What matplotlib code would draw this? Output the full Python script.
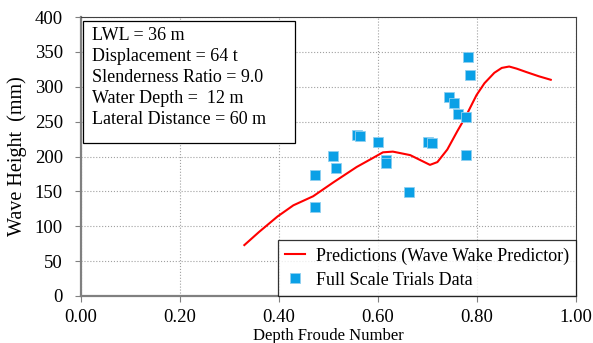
import numpy as np
from matplotlib import pyplot as plt

# predicted wave height (line)
pred_fr = [0.330, 0.360, 0.397, 0.429, 0.469, 0.510, 0.557, 0.590, 0.610, 0.630,
           0.665, 0.685, 0.705, 0.720, 0.740, 0.760, 0.777, 0.799, 0.815, 0.835,
           0.850, 0.865, 0.880, 0.900, 0.925, 0.949]
pred_h = [73, 92, 114, 130, 143, 163, 185, 198, 206, 207,
          202, 195, 188, 192, 210, 236, 257, 288, 305, 320,
          327, 329, 326, 321, 315, 310]

# full scale trials
trial_fr = [0.473, 0.473, 0.510, 0.516, 0.558, 0.564, 0.601, 0.616, 0.616, 0.663,
            0.700, 0.710, 0.744, 0.753, 0.762, 0.777, 0.777, 0.782, 0.786]
trial_h = [174, 127, 201, 184, 231, 230, 221, 195, 191, 149,
           221, 220, 286, 277, 261, 257, 202, 343, 317]

info = ['LWL = 36 m', 'Displacement = 64 t', 'Slenderness Ratio = 9.0',
        'Water Depth =  12 m', 'Lateral Distance = 60 m']

plt.rcParams['font.family'] = 'Liberation Serif'

fig = plt.figure(figsize=(5.93, 3.43), dpi=100)
ax = fig.add_axes([81/593, 1-296/343, 495/593, 279/343])

ax.plot(pred_fr, pred_h, color='red', lw=1.5, label='Predictions (Wave Wake Predictor)', zorder=3)
ax.plot(trial_fr, trial_h, 's', color='#0aa0e6', mec='#8fd0f0', mew=0.6, ms=6.5,
        label='Full Scale Trials Data', zorder=4)

ax.set_xlim(0, 1.0)
ax.set_ylim(0, 400)
ax.set_xticks(np.arange(0, 1.01, 0.2))
ax.set_xticklabels(['%.2f' % v for v in np.arange(0, 1.01, 0.2)])
ax.set_yticks(range(0, 401, 50))
ax.tick_params(labelsize=13.5, direction='out', length=4, color='#808080')
ax.tick_params(axis='y', pad=9)
ax.tick_params(axis='x', pad=5)
ax.grid(True, linestyle=':', color='#a0a0a0', lw=0.8)

for s in ['left', 'bottom']:
    ax.spines[s].set_color('#808080')
    ax.spines[s].set_linewidth(1.6)
for s in ['top', 'right']:
    ax.spines[s].set_color('#404040')
    ax.spines[s].set_linewidth(0.8)

ax.set_xlabel('Depth Froude Number', fontsize=12, va='center')
ax.xaxis.set_label_coords(0.5, -0.143)
ax.set_ylabel('Wave Height  (mm)', fontsize=14.5, va='center')
ax.yaxis.set_label_coords(-0.13, 0.5)

leg = ax.legend(loc='lower right', fontsize=13, frameon=True, fancybox=False,
                edgecolor='black', borderpad=0.4, handlelength=1.1, handletextpad=0.6,
                borderaxespad=0, labelspacing=0.4)
leg.get_frame().set_linewidth(0.9)

# info box
ax.add_patch(plt.Rectangle((0.004, 0.548), 0.428, 0.438, transform=ax.transAxes,
                           fc='white', ec='black', lw=0.9, zorder=5))
for i, line in enumerate(info):
    ax.text(0.022, 0.935 - i * 0.076, line, transform=ax.transAxes, fontsize=13,
            va='center', ha='left', zorder=6)

plt.savefig('out.png', dpi=100)
